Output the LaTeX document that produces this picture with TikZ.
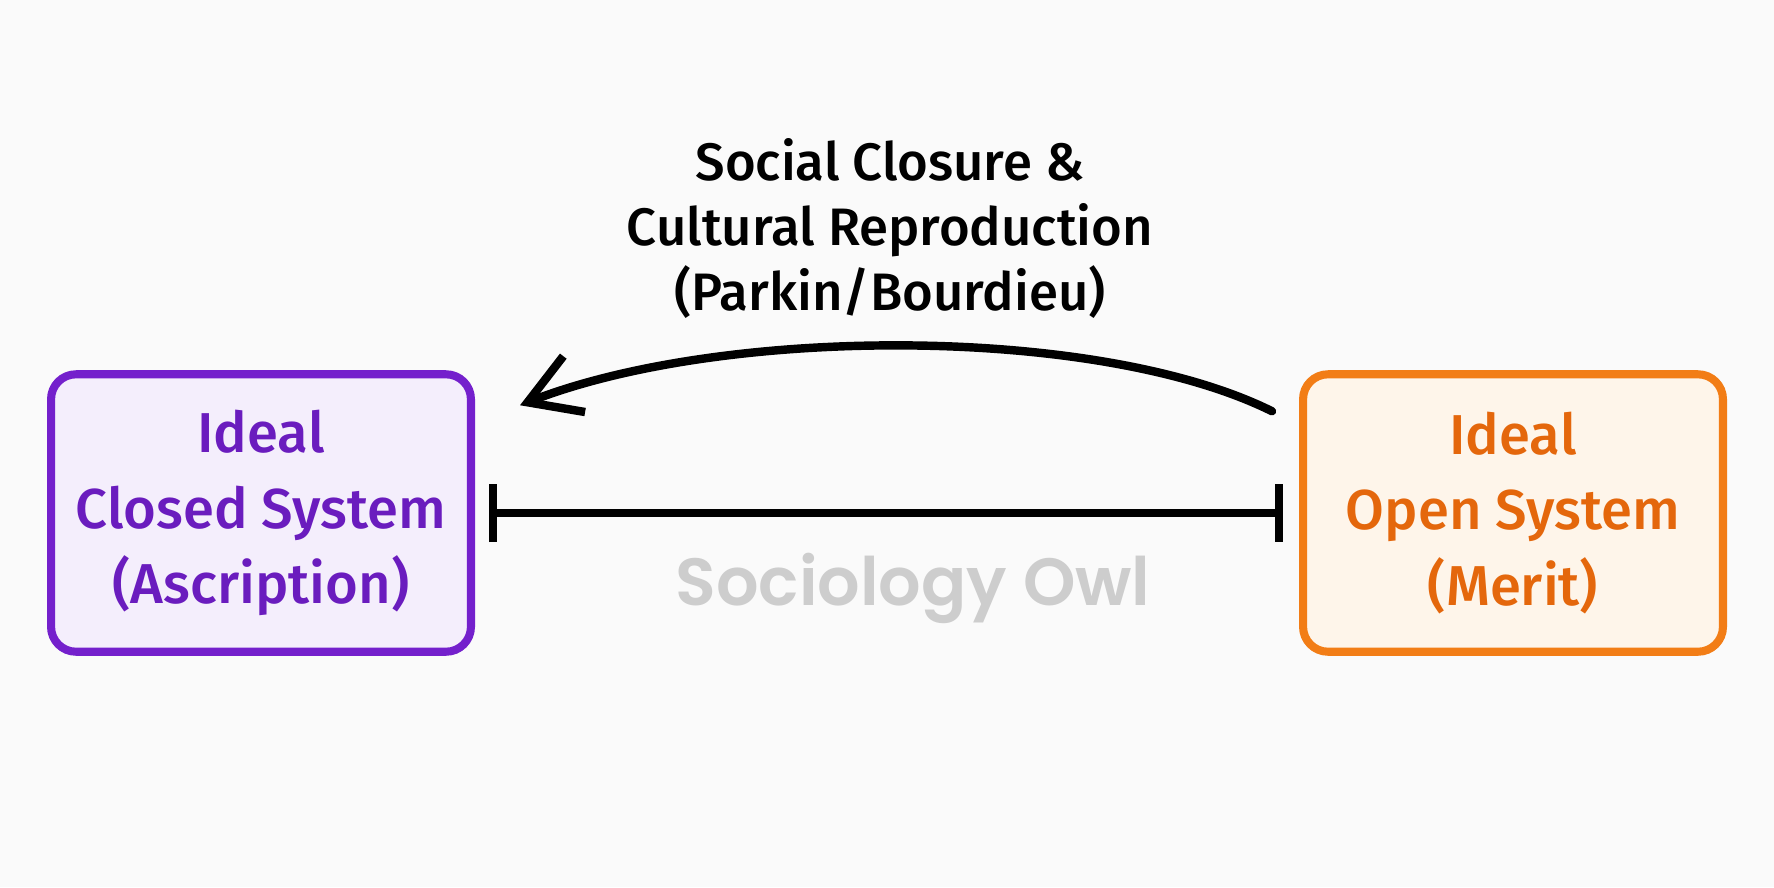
\documentclass[tikz,border=0pt]{standalone}
\usepackage{fontspec}
\setmainfont{Fira Sans}[UprightFont=* Medium]
\newfontfamily\owlfont{Poppins}[UprightFont=* SemiBold]
\usepackage{tikz}
\usetikzlibrary{positioning}
\usetikzlibrary{arrows.meta}
\usetikzlibrary{calc}
\usepackage{xcolor}
\definecolor{paper}{HTML}{FAFAFA}
\definecolor{closedline}{HTML}{7420CC}
\definecolor{closedfill}{HTML}{F4EEFC}
\definecolor{closedtext}{HTML}{6A1CBE}
\definecolor{openline}{HTML}{F27D16}
\definecolor{openfill}{HTML}{FEF5EA}
\definecolor{opentext}{HTML}{E4670C}
\definecolor{owlgrey}{HTML}{CDCDCD}

\begin{document}
\begin{tikzpicture}[x=0.02cm, y=-0.02cm,
        box/.style={draw, rounded corners=0.5cm, line width=4.6pt, minimum width=8.4cm, minimum height=5.55cm, align=center, font=\fontsize{32}{43}\selectfont},
        pen/.style={line width=4.8pt, line cap=round}]
    \fill[paper] (0,0) rectangle (1774,887);
    \useasboundingbox (0,0) rectangle (1774,887);

    \node[box, draw=closedline, fill=closedfill, text=closedtext] (closed) at (261,513) {Ideal\\Closed System\\(Ascription)};
    \node[box, draw=openline, fill=openfill, text=opentext] (open) at (1513,513) {Ideal\\Open System\\(Merit)};

    \node[align=center, font=\fontsize{30}{37}\selectfont] (closure) at (890,228) {Social Closure \&\\Cultural Reproduction\\(Parkin/Bourdieu)};
    \node[text=owlgrey, font=\owlfont\fontsize{38}{40}\selectfont] (owl) at (913,588) {Sociology Owl};

    \draw[pen, {Bar[width=1.16cm]}-{Bar[width=1.16cm]}, shorten <=0.28cm, shorten >=0.32cm] (closed.east) -- (open.west);
    \draw[pen, -{Straight Barb[length=1cm, width=1.2cm]}] ($(open.north west)+(-27,41)$) .. controls ($(open.north west)+(-200,-45)$) and ($(closed.north east)+(250,-45)$) .. ($(closed.north east)+(45,35)$);
\end{tikzpicture}
\end{document}
